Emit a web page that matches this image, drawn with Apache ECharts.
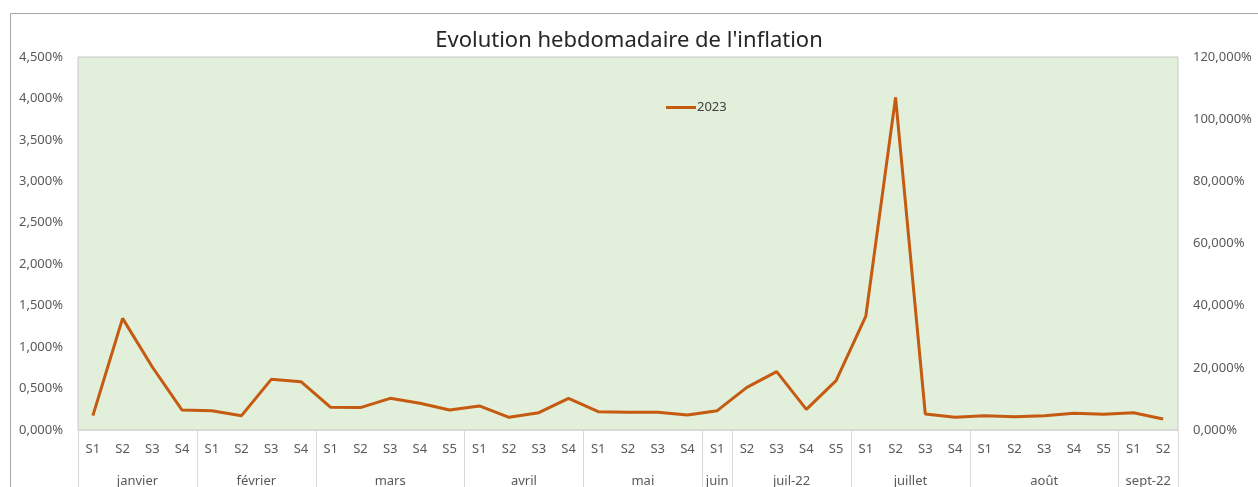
<!DOCTYPE html>
<html>
<head>
<meta charset="utf-8">
<style>
  html, body { margin: 0; padding: 0; background: #fff; }
  #chart { width: 1258px; height: 487px; }
</style>
<script src="https://cdn.jsdelivr.net/npm/echarts@6/dist/echarts.min.js"></script>
</head>
<body>
<div id="chart"></div>
<script>
// weekly labels, one per point
const weeks = [
    'S1', 'S2', 'S3', 'S4',
    'S1', 'S2', 'S3', 'S4',
    'S1', 'S2', 'S3', 'S4', 'S5',
    'S1', 'S2', 'S3', 'S4',
    'S1', 'S2', 'S3', 'S4',
    'S1',
    'S2', 'S3', 'S4', 'S5',
    'S1', 'S2', 'S3', 'S4',
    'S1', 'S2', 'S3', 'S4', 'S5',
    'S1', 'S2'
];
const months = ['janvier', 'février', 'mars', 'avril', 'mai', 'juin', 'juil-22', 'juillet', 'août', 'sept-22'];
const monthWeeks = [4, 4, 5, 4, 4, 1, 4, 4, 5, 2];

// inflation 2023 (%)
const inflation2023 = [
    0.173, 1.347, 0.76, 0.241,
    0.233, 0.173, 0.611, 0.583,
    0.273, 0.270, 0.382, 0.322, 0.241,
    0.290, 0.153, 0.209, 0.382,
    0.221, 0.213, 0.213, 0.181,
    0.233,
    0.515, 0.704, 0.249, 0.595,
    1.375, 4.013, 0.193, 0.153,
    0.173, 0.161, 0.173, 0.201, 0.189,
    0.209, 0.133
];

const leftTicks = { min: 0, max: 4.5, interval: 0.5 };
const rightTicks = { min: 0, max: 120, interval: 20 };

// month boundaries and centers on a 0..N value scale
const bounds = [0];
const centers = [];
monthWeeks.forEach((n, i) => {
    centers.push(bounds[i] + n / 2);
    bounds.push(bounds[i] + n);
});

const FONT = 'Noto Sans';
const pct = (v) => v.toFixed(3).replace('.', ',') + '%';

const chart = echarts.init(document.getElementById('chart'));

chart.setOption({
    backgroundColor: '#fff',
    animation: false,
    textStyle: { fontFamily: FONT },
    title: {
        text: "Evolution hebdomadaire de l'inflation",
        left: 'center', top: 25,
        textStyle: { fontFamily: FONT, fontSize: 22, fontWeight: 'normal', color: '#262626' }
    },
    legend: {
        left: 666, top: 101, padding: 0,
        icon: 'rect',
        itemWidth: 30, itemHeight: 3, itemGap: 4,
        textStyle: { fontFamily: FONT, fontSize: 13, color: '#404040', padding: [0, 0, 0, -4] },
        data: ['2023']
    },
    graphic: [{
        type: 'rect', z: -1,
        shape: { x: 10.5, y: 13.5, width: 1260, height: 490 },
        style: { fill: 'none', stroke: '#a6a6a6', lineWidth: 1 }
    }],
    grid: {
        left: 78, right: 80, top: 57, bottom: 57,
        outerBoundsMode: 'none',
        show: true, backgroundColor: '#e2efda', borderColor: '#c8c8c8', borderWidth: 1
    },
    xAxis: [
        {
            type: 'category',
            data: weeks,
            boundaryGap: true,
            axisLine: { lineStyle: { color: '#d9d9d9', width: 1 } },
            axisTick: { show: false },
            axisLabel: { interval: 0, margin: 13, fontFamily: FONT, fontSize: 13, color: '#595959' },
            splitLine: { show: false }
        },
        {
            type: 'value',
            position: 'bottom',
            min: 0, max: weeks.length,
            axisLine: { show: false },
            axisTick: { show: true, customValues: bounds, length: 60, lineStyle: { color: '#d9d9d9', width: 1 } },
            axisLabel: {
                customValues: centers, margin: 45, fontFamily: FONT, fontSize: 13, color: '#595959',
                formatter: (v) => months[centers.findIndex(c => Math.abs(c - v) < 1e-6)] || ''
            },
            splitLine: { show: false }
        }
    ],
    yAxis: [
        {
            type: 'value', position: 'left',
            min: leftTicks.min, max: leftTicks.max, interval: leftTicks.interval,
            axisLine: { show: false }, axisTick: { show: false }, splitLine: { show: false },
            axisLabel: { margin: 15, fontFamily: FONT, fontSize: 13, color: '#595959', formatter: pct }
        },
        {
            type: 'value', position: 'right',
            min: rightTicks.min, max: rightTicks.max, interval: rightTicks.interval,
            axisLine: { show: false }, axisTick: { show: false }, splitLine: { show: false },
            axisLabel: { margin: 15, fontFamily: FONT, fontSize: 13, color: '#595959', formatter: pct }
        }
    ],
    series: [{
        name: '2023',
        type: 'line',
        xAxisIndex: 0, yAxisIndex: 0,
        data: inflation2023,
        symbol: 'none',
        lineStyle: { color: '#c55a11', width: 3 },
        itemStyle: { color: '#c55a11' }
    }]
});
</script>
</body>
</html>
